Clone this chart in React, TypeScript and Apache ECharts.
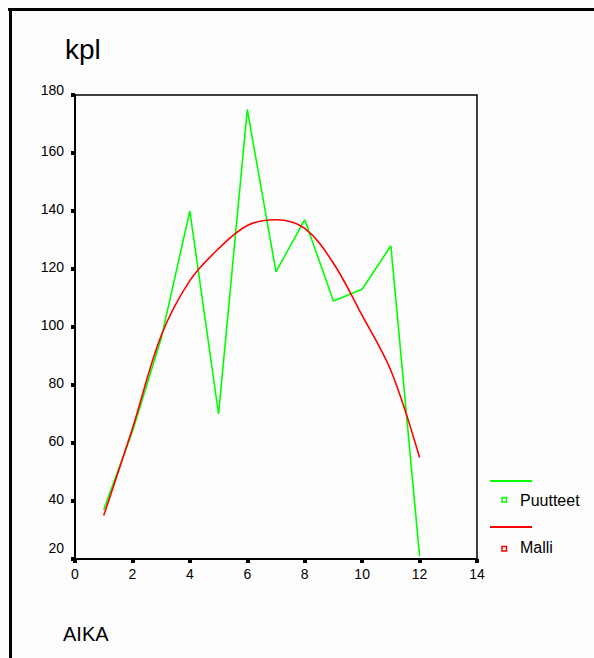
import React, { useEffect, useRef } from "react";
import * as echarts from "echarts";

const xValues = [1, 2, 3, 4, 5, 6, 7, 8, 9, 10, 11, 12];
const puutteet = [37, 64, 96, 140, 70, 175, 119, 137, 109, 113, 128, 21];
const malli = [35, 65, 97, 116, 127, 135, 137, 134, 122, 104, 85, 55];
const yTitle = "kpl";
const xTitle = "AIKA";
const seriesNames = ["Puutteet", "Malli"];

const FONT = "'Liberation Sans', Arial, sans-serif";

export default function App() {
  const ref = useRef<HTMLDivElement>(null);
  useEffect(() => {
    if (!ref.current) return;
    const chart = echarts.init(ref.current, null, { renderer: "svg" });
    const green = "#00ff00";
    const red = "#ff0000";
    chart.setOption({
      animation: false,
      backgroundColor: "#fdfdfd",
      textStyle: { fontFamily: FONT },
      grid: {
        left: 75,
        top: 95,
        width: 402,
        height: 464,
        show: true,
        borderColor: "#000",
        borderWidth: 1.5,
        backgroundColor: "transparent",
      },
      xAxis: {
        type: "value",
        min: 0,
        max: 14,
        interval: 2,
        splitLine: { show: false },
        axisLine: { show: true, onZero: false, lineStyle: { color: "#000", width: 2 } },
        axisTick: { show: true, length: 4, lineStyle: { color: "#000", width: 4 } },
        axisLabel: { color: "#000", fontSize: 14, margin: 8, fontFamily: FONT },
      },
      yAxis: {
        type: "value",
        min: 20,
        max: 180,
        interval: 20,
        splitLine: { show: false },
        axisLine: { show: true, onZero: false, lineStyle: { color: "#000", width: 2 } },
        axisTick: { show: true, length: 4, lineStyle: { color: "#000", width: 4 } },
        axisLabel: {
          color: "#000",
          fontSize: 14,
          margin: 11,
          fontFamily: FONT,
          formatter: (v: number) =>
            v === 180 ? "{top|" + v + "}" : v === 20 ? "{bot|" + v + "}" : "{mid|" + v + "}",
          rich: {
            top: { fontSize: 14, fontFamily: FONT, color: "#000", padding: [0, 0, 10, 0] },
            bot: { fontSize: 14, fontFamily: FONT, color: "#000", padding: [0, 0, 23, 0] },
            mid: { fontSize: 14, fontFamily: FONT, color: "#000", padding: [0, 0, 4, 0] },
          },
        },
      },
      series: [
        {
          name: seriesNames[0],
          type: "line",
          data: xValues.map((x, i) => [x, puutteet[i]]),
          showSymbol: false,
          lineStyle: { color: green, width: 1.6 },
          itemStyle: { color: green },
          z: 2,
        },
        {
          name: seriesNames[1],
          type: "line",
          data: xValues.map((x, i) => [x, malli[i]]),
          showSymbol: false,
          smooth: 0.35,
          lineStyle: { color: red, width: 1.6 },
          itemStyle: { color: red },
          z: 3,
        },
      ],
      graphic: [
        { type: "line", shape: { x1: 8, y1: 9.5, x2: 594, y2: 9.5 }, style: { stroke: "#000", lineWidth: 3 } },
        { type: "line", shape: { x1: 10.5, y1: 8, x2: 10.5, y2: 658 }, style: { stroke: "#000", lineWidth: 3 } },
        {
          type: "text",
          left: 65,
          top: 35,
          style: { text: yTitle, fontSize: 28, fontFamily: FONT, fill: "#000" },
        },
        {
          type: "text",
          left: 63,
          top: 624,
          style: { text: xTitle, fontSize: 20, fontFamily: FONT, fill: "#000" },
        },
        { type: "line", shape: { x1: 490, y1: 481, x2: 532, y2: 481 }, style: { stroke: green, lineWidth: 2 } },
        { type: "rect", shape: { x: 502, y: 497.5, width: 4.5, height: 4.5 }, style: { fill: "#fff", stroke: green, lineWidth: 1.5 } },
        {
          type: "text",
          x: 520,
          y: 500,
          style: { text: seriesNames[0], fontSize: 16, fontFamily: FONT, fill: "#000", verticalAlign: "middle" },
        },
        { type: "line", shape: { x1: 490, y1: 527, x2: 532, y2: 527 }, style: { stroke: red, lineWidth: 2 } },
        { type: "rect", shape: { x: 502, y: 546.5, width: 4.5, height: 4.5 }, style: { fill: "#fff", stroke: red, lineWidth: 1.5 } },
        {
          type: "text",
          x: 520,
          y: 547,
          style: { text: seriesNames[1], fontSize: 16, fontFamily: FONT, fill: "#000", verticalAlign: "middle" },
        },
      ],
    });
    return () => chart.dispose();
  }, []);
  return (
    <div
      ref={ref}
      style={{ position: "fixed", left: 0, top: 0, width: 594, height: 658 }}
    />
  );
}
